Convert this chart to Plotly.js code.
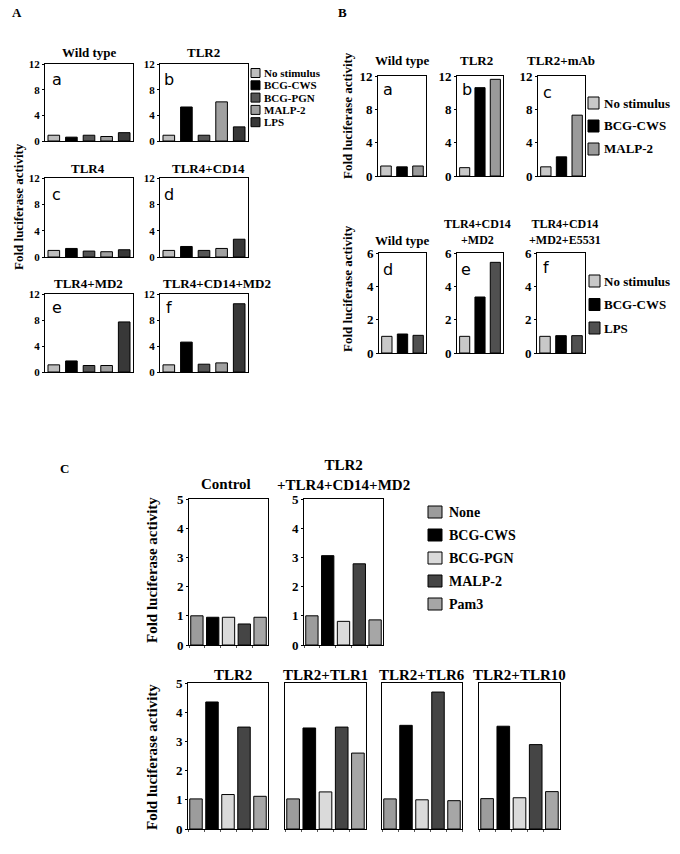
<!DOCTYPE html>
<html><head><meta charset="utf-8">
<script src="https://cdn.plot.ly/plotly-3.0.1.min.js"></script>
<style>html,body{margin:0;padding:0;background:#fff}#chart{width:680px;height:854px}</style>
</head><body><div id="chart"></div>
<script>
// ---------------- DATA ----------------
// Panel A
const seriesA = ['No stimulus', 'BCG-CWS', 'BCG-PGN', 'MALP-2', 'LPS'];
const titlesA = ['Wild type', 'TLR2', 'TLR4', 'TLR4+CD14', 'TLR4+MD2', 'TLR4+CD14+MD2'];
const aWildType = [0.9, 0.6, 0.9, 0.7, 1.3];
const aTLR2 = [0.9, 5.3, 0.9, 6.1, 2.2];
const aTLR4 = [1.0, 1.3, 0.9, 0.8, 1.1];
const aTLR4CD14 = [1.0, 1.6, 1.0, 1.3, 2.7];
const aTLR4MD2 = [1.1, 1.7, 1.0, 1.0, 7.7];
const aTLR4CD14MD2 = [1.1, 4.6, 1.2, 1.4, 10.5];
const yTicksA = [0, 4, 8, 12];

// Panel B
const seriesB1 = ['No stimulus', 'BCG-CWS', 'MALP-2'];
const titlesB1 = ['Wild type', 'TLR2', 'TLR2+mAb'];
const bWildType1 = [1.2, 1.1, 1.2];
const bTLR2 = [1.0, 10.6, 11.6];
const bTLR2mAb = [1.1, 2.3, 7.3];
const yTicksB1 = [0, 4, 8, 12];
const seriesB2 = ['No stimulus', 'BCG-CWS', 'LPS'];
const titlesB2 = ['Wild type', 'TLR4+CD14<br>+MD2', 'TLR4+CD14<br>+MD2+E5531'];
const bWildType2 = [1.0, 1.14, 1.06];
const bTLR4CD14MD2 = [1.0, 3.36, 5.44];
const bTLR4CD14MD2E5531 = [1.0, 1.04, 1.04];
const yTicksB2 = [0, 2, 4, 6];

// Panel C
const seriesC = ['None', 'BCG-CWS', 'BCG-PGN', 'MALP-2', 'Pam3'];
const titlesC = ['Control', 'TLR2<br>+TLR4+CD14+MD2', 'TLR2', 'TLR2+TLR1', 'TLR2+TLR6', 'TLR2+TLR10'];
const cControl = [1.0, 0.95, 0.95, 0.72, 0.95];
const cTLR2TLR4CD14MD2 = [1.0, 3.06, 0.81, 2.78, 0.86];
const cTLR2 = [1.03, 4.35, 1.18, 3.49, 1.12];
const cTLR2TLR1 = [1.03, 3.46, 1.27, 3.49, 2.6];
const cTLR2TLR6 = [1.03, 3.55, 1.0, 4.69, 0.97];
const cTLR2TLR10 = [1.04, 3.52, 1.07, 2.89, 1.28];
const yTicksC = [0, 1, 2, 3, 4, 5];

const yTitle = 'Fold luciferase activity';

// ---------------- STYLE ----------------
const colorsA = ['#bdbdbd', '#000000', '#555555', '#a0a0a0', '#383838'];
const colorsB1 = ['#c8c8c8', '#000000', '#9a9a9a'];
const colorsB2 = ['#c8c8c8', '#000000', '#505050'];
const colorsC = ['#9c9c9c', '#000000', '#dadada', '#454545', '#a6a6a6'];
const SERIF = 'Liberation Serif, Times New Roman, serif';
const SANS = 'DejaVu Sans, Liberation Sans, sans-serif';
const W = 680, H = 854;
const px = x => x / W;
const py = y => 1 - y / H;

// subplot layout specs (pixel boxes: left, top, right, bottom)
const specs = [
  // Panel A
  {vals: aWildType, cats: seriesA, colors: colorsA, box: [45, 64, 133, 141], yr: [0, 12], yt: yTicksA, tf: 11, bw: 0.66, title: titlesA[0], tx: 89, ty: 53, letter: 'a', lx: 57, ly: 79},
  {vals: aTLR2, cats: seriesA, colors: colorsA, box: [160, 64, 248, 141], yr: [0, 12], yt: yTicksA, tf: 11, bw: 0.66, title: titlesA[1], tx: 203, ty: 53, letter: 'b', lx: 169, ly: 79},
  {vals: aTLR4, cats: seriesA, colors: colorsA, box: [45, 178, 133, 257], yr: [0, 12], yt: yTicksA, tf: 11, bw: 0.66, title: titlesA[2], tx: 88, ty: 168, letter: 'c', lx: 57, ly: 194},
  {vals: aTLR4CD14, cats: seriesA, colors: colorsA, box: [160, 178, 248, 257], yr: [0, 12], yt: yTicksA, tf: 11, bw: 0.66, title: titlesA[3], tx: 208, ty: 168, letter: 'd', lx: 169, ly: 194},
  {vals: aTLR4MD2, cats: seriesA, colors: colorsA, box: [45, 294, 133, 372], yr: [0, 12], yt: yTicksA, tf: 11, bw: 0.66, title: titlesA[4], tx: 88, ty: 284, letter: 'e', lx: 57, ly: 307},
  {vals: aTLR4CD14MD2, cats: seriesA, colors: colorsA, box: [160, 294, 248, 372], yr: [0, 12], yt: yTicksA, tf: 11, bw: 0.66, title: titlesA[5], tx: 217, ty: 284, letter: 'f', lx: 169, ly: 307},
  // Panel B row 1
  {vals: bWildType1, cats: seriesB1, colors: colorsB1, box: [378, 76, 426, 176], yr: [0, 12], yt: yTicksB1, tf: 13, bw: 0.66, title: titlesB1[0], tx: 402, ty: 61, letter: 'a', lx: 388, ly: 89},
  {vals: bTLR2, cats: seriesB1, colors: colorsB1, box: [457, 76, 503, 176], yr: [0, 12], yt: yTicksB1, tf: 13, bw: 0.66, title: titlesB1[1], tx: 477, ty: 61, letter: 'b', lx: 467, ly: 89},
  {vals: bTLR2mAb, cats: seriesB1, colors: colorsB1, box: [538, 76, 585, 176], yr: [0, 12], yt: yTicksB1, tf: 13, bw: 0.66, title: titlesB1[2], tx: 561, ty: 61, letter: 'c', lx: 547, ly: 92},
  // Panel B row 2
  {vals: bWildType2, cats: seriesB2, colors: colorsB2, box: [379, 253, 426, 353], yr: [0, 6], yt: yTicksB2, tf: 13, bw: 0.66, title: titlesB2[0], tx: 402, ty: 241, letter: 'd', lx: 388, ly: 269},
  {vals: bTLR4CD14MD2, cats: seriesB2, colors: colorsB2, box: [457, 253, 503, 353], yr: [0, 6], yt: yTicksB2, tf: 13, bw: 0.66, title: titlesB2[1], tx: 478, ty: 232, tsz: 12, letter: 'e', lx: 466, ly: 269},
  {vals: bTLR4CD14MD2E5531, cats: seriesB2, colors: colorsB2, box: [537, 253, 585, 353], yr: [0, 6], yt: yTicksB2, tf: 13, bw: 0.66, title: titlesB2[2], tx: 565, ty: 232, tsz: 12, letter: 'f', lx: 546, ly: 267},
  // Panel C
  {vals: cControl, cats: seriesC, colors: colorsC, box: [189, 499, 268, 645], yr: [0, 5], yt: yTicksC, tf: 13, bw: 0.78, xt: true, title: titlesC[0], tx: 226, ty: 484, tsz: 15},
  {vals: cTLR2TLR4CD14MD2, cats: seriesC, colors: colorsC, box: [304, 499, 383, 645], yr: [0, 5], yt: yTicksC, tf: 13, bw: 0.78, xt: true, title: titlesC[1], tx: 343, ty: 475, tsz: 15},
  {vals: cTLR2, cats: seriesC, colors: colorsC, box: [188, 683, 268, 829], yr: [0, 5], yt: yTicksC, tf: 13, bw: 0.78, xt: true, title: titlesC[2], tx: 233, ty: 675, tsz: 15},
  {vals: cTLR2TLR1, cats: seriesC, colors: colorsC, box: [285, 683, 366, 829], yr: [0, 5], yt: yTicksC, tf: 13, bw: 0.78, xt: true, noY: true, title: titlesC[3], tx: 325, ty: 675, tsz: 15},
  {vals: cTLR2TLR6, cats: seriesC, colors: colorsC, box: [382, 683, 462, 829], yr: [0, 5], yt: yTicksC, tf: 13, bw: 0.78, xt: true, noY: true, title: titlesC[4], tx: 422, ty: 675, tsz: 15},
  {vals: cTLR2TLR10, cats: seriesC, colors: colorsC, box: [479, 683, 560, 829], yr: [0, 5], yt: yTicksC, tf: 13, bw: 0.78, xt: true, noY: true, title: titlesC[5], tx: 519, ty: 675, tsz: 15}
];

const data = [];
const layout = {
  width: W, height: H,
  margin: {l: 0, r: 0, t: 0, b: 0},
  paper_bgcolor: '#fff', plot_bgcolor: '#fff',
  showlegend: false,
  font: {family: SERIF, color: '#000'},
  annotations: [], shapes: []
};

function ann(text, x, y, size, opts) {
  layout.annotations.push(Object.assign({
    text: text, x: px(x), y: py(y), xref: 'paper', yref: 'paper',
    showarrow: false, xanchor: 'center', yanchor: 'middle',
    font: {family: SERIF, size: size, color: '#000', weight: 'bold'}
  }, opts || {}));
}

specs.forEach((s, i) => {
  const n = i + 1;
  const xa = 'xaxis' + (n === 1 ? '' : n), ya = 'yaxis' + (n === 1 ? '' : n);
  const xr = 'x' + (n === 1 ? '' : n), yr = 'y' + (n === 1 ? '' : n);
  const [l, t, r, b] = s.box;
  data.push({
    type: 'bar', x: s.cats, y: s.vals, xaxis: xr, yaxis: yr,
    width: s.bw,
    marker: {color: s.colors, line: {color: '#000', width: 1}},
    hoverinfo: 'x+y'
  });
  layout[xa] = {
    domain: [px(l), px(r)], anchor: yr, type: 'category',
    range: [-0.5, s.cats.length - 0.5],
    showticklabels: false, showline: true, mirror: true,
    linecolor: '#000', linewidth: 1, showgrid: false, zeroline: false,
    ticks: s.xt ? 'outside' : '', tickson: 'boundaries', ticklen: 2, tickcolor: '#555', tickwidth: 1,
    fixedrange: true
  };
  layout[ya] = {
    domain: [py(b), py(t)], anchor: xr, range: s.yr,
    tickmode: 'array', tickvals: s.yt, ticktext: s.yt.map(String),
    showticklabels: !s.noY,
    ticks: s.noY ? '' : 'outside', ticklen: 2, tickcolor: '#000',
    tickfont: {family: SERIF, size: s.tf, color: '#000', weight: 'bold'},
    showline: true, mirror: true, linecolor: '#000', linewidth: 1,
    showgrid: false, zeroline: false, fixedrange: true
  };
  ann(s.title, s.tx, s.ty, s.tsz || 13);
  if (s.letter) ann(s.letter, s.lx, s.ly, 16, {font: {family: SANS, size: 16, color: '#000'}});
});

// Panel labels
ann('A', 17, 12, 13);
ann('B', 342, 12, 13);
ann('C', 64, 468, 13);

// Y axis titles
ann(yTitle, 19, 207, 13, {textangle: -90});
ann(yTitle, 347, 116, 13, {textangle: -90});
ann(yTitle, 347, 289, 13, {textangle: -90});
ann(yTitle, 152, 570, 15, {textangle: -90});
ann(yTitle, 152, 757, 15, {textangle: -90});

// Legends (swatches + labels)
function legend(names, colors, x0, y0, dy, sw, sh, gap, size) {
  names.forEach((nm, k) => {
    const yc = y0 + k * dy;
    layout.shapes.push({
      type: 'rect', xref: 'paper', yref: 'paper',
      x0: px(x0), x1: px(x0 + sw), y0: py(yc + sh / 2), y1: py(yc - sh / 2),
      fillcolor: colors[k], line: {color: '#000', width: 1}
    });
    ann(nm, x0 + sw + gap, yc, size, {xanchor: 'left'});
  });
}
legend(seriesA, colorsA, 251, 73, 12.3, 9, 9, 2, 11);
legend(seriesB1, colorsB1, 588, 103, 23, 11, 12, 3, 13);
legend(seriesB2, colorsB2, 589, 281, 23.5, 11, 12, 2, 13);
legend(seriesC, colorsC, 428, 512, 23, 14, 12, 5, 14);

Plotly.newPlot('chart', data, layout, {displayModeBar: false, staticPlot: true});
</script>
</body></html>
